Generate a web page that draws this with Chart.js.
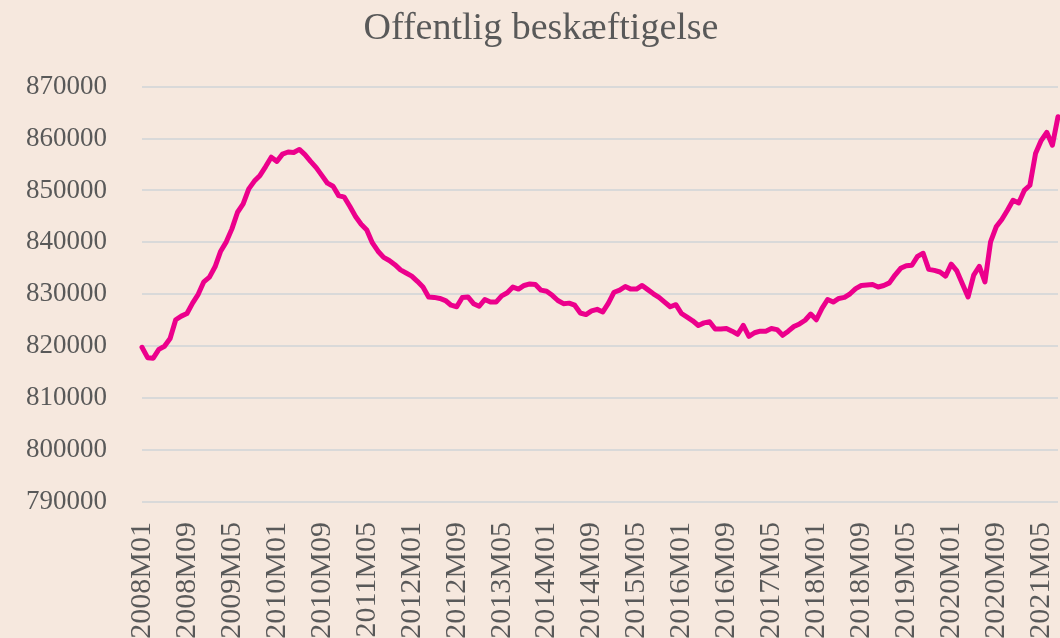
<!DOCTYPE html>
<html>
<head>
<meta charset="utf-8">
<script src="https://cdn.jsdelivr.net/npm/chart.js@4.4.0/dist/chart.umd.min.js"></script>
<style>
  html, body { margin: 0; padding: 0; background: #F6E8DE; }
  #wrap { width: 1060px; height: 638px; }
</style>
</head>
<body>
<div id="wrap"><canvas id="canvas_chart01" width="1060" height="638"></canvas></div>
<script>
// maanedlig offentlig beskaeftigelse, 2008M01 - 2021M08
const startYear = 2008;
const monthCount = 164;

const months = [];
for (let i = 0; i < monthCount; i++) {
    const y = startYear + Math.floor(i / 12);
    const m = (i % 12) + 1;
    months.push(y + 'M' + (m < 10 ? '0' + m : m));
}

const employment = [
    819800, 817800, 817700, 819400, 820000, 821500, 825100, 825800, 826300, 828300, 830000, 832400,
    833300, 835300, 838300, 840100, 842600, 845800, 847400, 850300, 851800, 852900, 854600, 856400,
    855600, 857000, 857400, 857300, 857900, 856900, 855600, 854400, 852900, 851400, 850800, 849000,
    848700, 846900, 845000, 843500, 842400, 839900, 838300, 837100, 836500, 835700, 834700, 834100,
    833500, 832500, 831400, 829500, 829400, 829200, 828800, 827900, 827600, 829400, 829500, 828200,
    827700, 829000, 828500, 828500, 829700, 830300, 831400, 831000, 831700, 832000, 831900, 830800,
    830600, 829800, 828800, 828200, 828300, 827900, 826400, 826100, 826800, 827100, 826600, 828300,
    830400, 830800, 831500, 831000, 831000, 831700, 830900, 830100, 829400, 828500, 827600, 828000,
    826300, 825600, 824900, 824000, 824500, 824700, 823300, 823300, 823400, 822900, 822300, 824000,
    821900, 822600, 822900, 822900, 823400, 823200, 822100, 822900, 823800, 824300, 825000, 826200,
    825100, 827300, 829000, 828500, 829200, 829400, 830100, 831100, 831700, 831800, 831900, 831400,
    831700, 832200, 833700, 835000, 835500, 835600, 837300, 837900, 834800, 834600, 834300, 833500,
    835800, 834500, 832000, 829500, 833700, 835400, 832400, 840100, 843000, 844400, 846200, 848100,
    847600, 850000, 851000, 857100, 859600, 861200, 858700, 864200
];

const yMin = 790000;
const yMax = 870000;
const yStep = 10000;
const labelEvery = 8;

const textColor = '#595959';
const serif = "'Liberation Serif', 'DejaVu Serif', serif";

const ctx01 = document.getElementById('canvas_chart01');

new Chart(ctx01, {
    type: 'line',
    data: {
        labels: months,
        datasets: [{
            label: 'Offentlig beskæftigelse',
            data: employment,
            borderColor: '#EC008C',
            borderWidth: 5,
            pointRadius: 0,
            tension: 0,
            fill: false,
            clip: false,
            borderJoinStyle: 'round',
            borderCapStyle: 'round'
        }]
    },
    options: {
        responsive: false,
        animation: false,
        layout: {
            padding: { left: 24, right: 2, top: 6, bottom: 0 }
        },
        plugins: {
            legend: { display: false },
            tooltip: { enabled: false },
            title: {
                display: true,
                text: 'Offentlig beskæftigelse',
                color: textColor,
                font: { family: serif, size: 38, weight: 'normal' },
                padding: { top: 0, bottom: 35 }
            }
        },
        scales: {
            x: {
                grid: { display: false, drawTicks: false },
                border: { display: false },
                ticks: {
                    autoSkip: false,
                    maxRotation: 90,
                    minRotation: 90,
                    padding: 20,
                    color: textColor,
                    font: { family: serif, size: 30 },
                    callback: function (value, index) {
                        return index % labelEvery === 0 ? months[index] : '';
                    }
                },
                afterFit: function (scale) {
                    // labels run off the bottom edge, like the original
                    scale.paddingLeft = 0;
                    scale.paddingRight = 0;
                    scale.height = 136;
                }
            },
            y: {
                min: yMin,
                max: yMax,
                grid: { color: '#D9D9D9', lineWidth: 2, drawTicks: false },
                border: { display: false },
                ticks: {
                    stepSize: yStep,
                    padding: 35,
                    color: textColor,
                    font: { family: serif, size: 27 },
                    callback: (v) => String(v)
                },
                afterFit: function (scale) {
                    scale.width = 118;
                }
            }
        }
    }
});
</script>
</body>
</html>
